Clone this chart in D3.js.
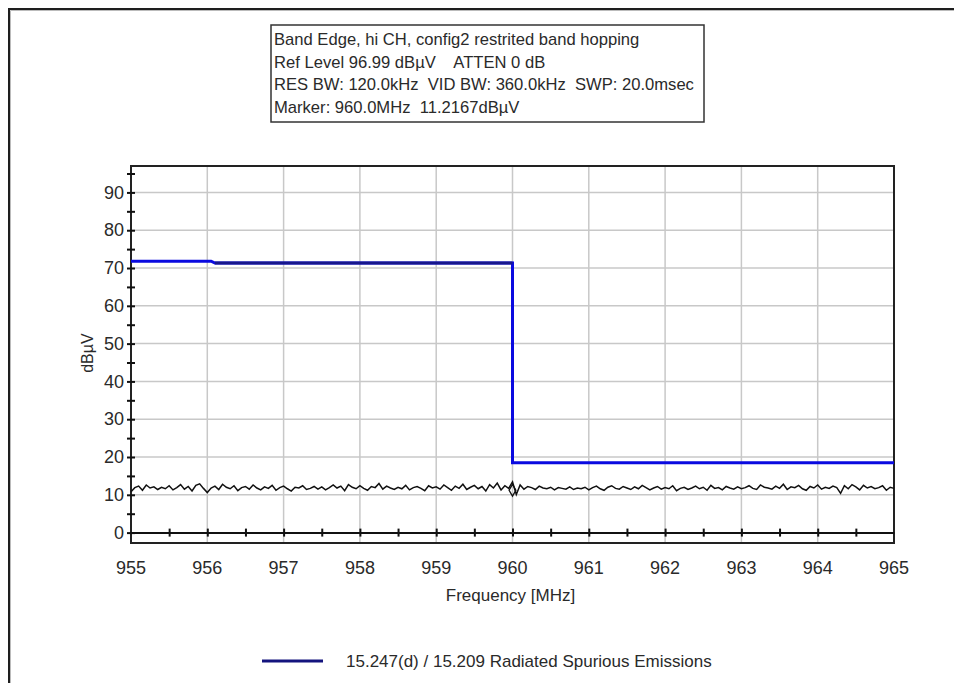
<!DOCTYPE html>
<html>
<head>
<meta charset="utf-8">
<script src="https://cdn.jsdelivr.net/npm/d3@7"></script>
<style>
  body { margin: 0; background: #fff; }
  text { font-family: "Liberation Sans", Arial, sans-serif; fill: #2a2a2a; white-space: pre; }
</style>
</head>
<body>
<div id="chart"></div>
<script>
// Header lines from the analyzer
const headerLines = [
  "Band Edge, hi CH, config2 restrited band hopping",
  "Ref Level 96.99 dB\u00b5V    ATTEN 0 dB",
  "RES BW: 120.0kHz  VID BW: 360.0kHz  SWP: 20.0msec",
  "Marker: 960.0MHz  11.2167dB\u00b5V"
];

// Axis ticks
const freqTicks = [955, 956, 957, 958, 959, 960, 961, 962, 963, 964, 965];
const levelTicks = [0, 10, 20, 30, 40, 50, 60, 70, 80, 90];

// Limit line (15.247(d) / 15.209)
const limitFreq = [955, 956.05, 956.1, 960, 960, 965];
const limitLevel = [71.8, 71.8, 71.3, 71.3, 18.5, 18.5];

// Measured trace, swept 955 -> 965 MHz
const sweepStart = 955, sweepStop = 965;
const trace = [
  10.8,11.9,12.3,11.2,12.6,11.8,12.1,11.4,12.0,11.6,
  12.4,11.3,11.9,12.7,11.5,12.2,11.0,12.5,12.9,11.7,
  10.6,11.8,12.3,11.4,12.8,12.0,11.6,12.4,11.1,11.9,
  12.2,11.5,12.6,11.8,11.3,12.1,11.7,12.5,11.2,11.9,
  12.3,11.6,11.0,12.0,11.8,12.4,11.4,11.7,12.2,11.5,
  12.1,11.3,11.9,12.6,11.8,12.3,11.1,12.7,12.0,11.6,
  12.4,11.7,11.2,12.2,11.9,13.0,11.5,12.3,11.8,11.4,
  12.0,11.6,12.5,11.3,11.9,12.2,11.7,11.1,12.4,11.8,
  12.1,11.5,12.6,11.9,11.2,12.3,11.7,12.8,11.4,12.0,
  12.5,11.6,12.2,11.0,12.7,11.8,13.1,11.3,12.4,11.7,
  13.4,10.1,12.6,11.5,12.2,11.9,11.4,12.3,11.8,11.6,
  12.0,11.3,11.9,11.7,11.5,12.1,11.4,11.8,11.6,12.0,
  11.3,11.9,12.3,11.6,11.2,12.0,12.4,11.7,11.5,12.2,
  11.8,11.4,12.1,11.6,12.5,11.9,11.3,11.8,12.2,11.5,
  11.9,11.6,12.4,11.1,11.7,12.0,11.4,11.8,12.3,11.6,
  12.0,11.2,12.5,11.7,11.9,11.3,12.2,11.8,11.5,12.1,
  11.6,11.9,12.4,11.7,11.4,12.6,12.0,11.8,11.5,12.3,
  11.7,12.8,11.4,12.1,11.9,12.5,11.6,11.2,12.2,11.8,
  12.6,11.5,12.0,11.7,12.3,11.9,10.4,12.4,11.6,12.7,
  12.1,11.3,12.5,11.8,12.2,11.6,11.9,12.4,11.2,12.0,
  11.7
];
const markerFreq = 960, markerLevel = 11.2167;

const legendLabel = "15.247(d) / 15.209 Radiated Spurious Emissions";

// Dimensions
const W = 954, H = 683;
const margin = { top: 166, right: 60, bottom: 140, left: 131 },
      width = W - margin.left - margin.right,
      height = H - margin.top - margin.bottom;

const root = d3.select("#chart").append("svg")
  .attr("width", W)
  .attr("height", H);

// outer frame (only top and left edges visible)
root.append("path")
  .attr("d", `M9,${H} V9 H${W}`)
  .attr("fill", "none")
  .attr("stroke", "#1e1e1e")
  .attr("stroke-width", 2);
root.append("path")
  .attr("d", `M10.5,${H} V10.5 H${W}`)
  .attr("fill", "none")
  .attr("stroke", "#bbb")
  .attr("stroke-width", 1);

// header box
const hb = root.append("g").attr("transform", "translate(271,25)");
hb.append("rect")
  .attr("width", 433).attr("height", 97)
  .attr("fill", "#fff")
  .attr("stroke", "#333")
  .attr("stroke-width", 1.5);
hb.selectAll("text")
  .data(headerLines)
  .enter().append("text")
    .attr("x", 3)
    .attr("y", (d, i) => 20 + i * 22.5)
    .attr("font-size", 16.6)
    .text(d => d);

const svg = root.append("g")
  .attr("transform", "translate(" + margin.left + "," + margin.top + ")");

const x = d3.scaleLinear()
  .domain([sweepStart, sweepStop])
  .range([0, width]);

const y = d3.scaleLinear()
  .domain([-2.75, 96.99])
  .range([height, 0]);

// grid
svg.append("g")
  .selectAll("line")
  .data(freqTicks.slice(1, -1))
  .enter().append("line")
    .attr("x1", d => x(d)).attr("x2", d => x(d))
    .attr("y1", 0).attr("y2", height)
    .attr("stroke", "#c8c8c8")
    .attr("stroke-width", 1.5);
svg.append("g")
  .selectAll("line")
  .data(levelTicks.slice(1))
  .enter().append("line")
    .attr("x1", 0).attr("x2", width)
    .attr("y1", d => y(d)).attr("y2", d => y(d))
    .attr("stroke", "#c8c8c8")
    .attr("stroke-width", 1.5);

// plot frame
svg.append("rect")
  .attr("width", width).attr("height", height)
  .attr("fill", "none")
  .attr("stroke", "#222")
  .attr("stroke-width", 2);

// y axis: cross ticks every 5, labels every 10
const yAxis = d3.axisLeft(y)
  .tickValues(d3.range(0, 96, 5))
  .tickSizeInner(4)
  .tickSizeOuter(0)
  .tickFormat(d => levelTicks.includes(d) ? d : "");
const gy = svg.append("g").call(yAxis);
gy.select(".domain").remove();
gy.selectAll(".tick line")
  .attr("x1", -4).attr("x2", 4)
  .attr("stroke", "#111").attr("stroke-width", 2);
gy.selectAll(".tick text")
  .attr("x", -7)
  .attr("font-size", 18)
  .attr("font-family", null)
  .attr("fill", "#2a2a2a");

// x axis drawn on the 0 dB line, cross ticks every 0.5 MHz
const xAxis = d3.axisBottom(x)
  .tickValues(d3.range(955.5, 965, 0.5))
  .tickSizeInner(4)
  .tickSizeOuter(0)
  .tickFormat("");
const gx = svg.append("g")
  .attr("transform", "translate(0," + y(0) + ")")
  .call(xAxis);
gx.select(".domain")
  .attr("stroke", "#111").attr("stroke-width", 2);
gx.selectAll(".tick line")
  .attr("y1", -4).attr("y2", 4)
  .attr("stroke", "#111").attr("stroke-width", 2);

// x tick labels under the frame
svg.append("g")
  .selectAll("text")
  .data(freqTicks)
  .enter().append("text")
    .attr("x", d => x(d))
    .attr("y", height + 31)
    .attr("text-anchor", "middle")
    .attr("font-size", 18)
    .text(d => d);

// axis titles
svg.append("text")
  .attr("x", width / 2 - 2)
  .attr("y", height + 58)
  .attr("text-anchor", "middle")
  .attr("font-size", 17)
  .text("Frequency [MHz]");
svg.append("text")
  .attr("transform", `translate(-38,${y(47.5)}) rotate(-90)`)
  .attr("text-anchor", "middle")
  .attr("font-size", 16)
  .text("dB\u00b5V");

// measured trace
const line = d3.line()
  .x(d => x(d[0]))
  .y(d => y(d[1]));
const step = (sweepStop - sweepStart) / (trace.length - 1);
const traceData = trace.map((v, i) => [sweepStart + i * step, v]);
svg.append("path")
  .datum(traceData)
  .attr("fill", "none")
  .attr("stroke", "#111")
  .attr("stroke-width", 1.5)
  .attr("d", line);

// marker
svg.append("path")
  .attr("transform", `translate(${x(markerFreq)},${y(markerLevel)})`)
  .attr("d", d3.symbol(d3.symbolDiamond, 40)())
  .attr("fill", "none")
  .attr("stroke", "#111")
  .attr("stroke-width", 1.3);

// limit line
const limitData = limitFreq.map((f, i) => [f, limitLevel[i]]);
svg.append("path")
  .datum(limitData)
  .attr("fill", "none")
  .attr("stroke", "#0a0ae0")
  .attr("stroke-width", 3)
  .attr("d", line);
svg.append("path")
  .datum(limitData.slice(2, 4))
  .attr("fill", "none")
  .attr("stroke", "#16168c")
  .attr("stroke-width", 3)
  .attr("d", line);

// legend
const lg = root.append("g").attr("transform", "translate(262,661)");
lg.append("line")
  .attr("x1", 0).attr("x2", 61)
  .attr("stroke", "#14147e")
  .attr("stroke-width", 3);
lg.append("text")
  .attr("x", 84)
  .attr("dy", "0.35em")
  .attr("font-size", 17)
  .text(legendLabel);
</script>
</body>
</html>
